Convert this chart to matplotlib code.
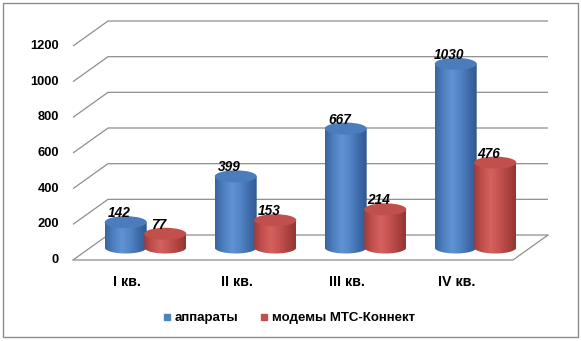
import numpy as np
import matplotlib
matplotlib.use("Agg")
import matplotlib.pyplot as plt
from matplotlib.patches import Ellipse, Rectangle, PathPatch
from matplotlib.path import Path
from matplotlib.colors import LinearSegmentedColormap

categories = ["I кв.", "II кв.", "III кв.", "IV кв."]
apparaty = [142, 399, 667, 1030]
modemy = [77, 153, 214, 476]
series_names = ["аппараты", "модемы МТС-Коннект"]
yticks = [0, 200, 400, 600, 800, 1000, 1200]

plt.rcParams['font.family'] = ['Liberation Sans', 'DejaVu Sans']

W, H = 581, 341
fig = plt.figure(figsize=(W / 100, H / 100), dpi=100)
ax = fig.add_axes([0, 0, 1, 1])
ax.axis("off")

# pixel geometry -> data scales
cat_px = 110.0
x_left_px = 73.0
val_px = 214.0 / 1200.0
y0_px = 260.0
ax.set_xlim(-0.5 - x_left_px / cat_px, -0.5 + (W - x_left_px) / cat_px)
ax.set_ylim((y0_px - H) / val_px, y0_px / val_px)

n = len(categories)
dx = 35.0 / cat_px      # depth offset in category units
dy = 25.0 / val_px      # depth offset in value units
grid_c = "#8f8f8f"

# gridlines (side wall + back wall)
for v in yticks:
    ax.plot([-0.5, -0.5 + dx, n - 0.5 + dx], [v, v + dy, v + dy],
            color=grid_c, lw=0.9, zorder=1, solid_capstyle="butt")
# floor outline
ax.plot([-0.5, n - 0.5, n - 0.5 + dx], [0, 0, dy], color=grid_c, lw=0.9, zorder=1)

# y tick labels
for v in yticks:
    ax.annotate(str(v), (-0.5, v), xytext=(-10, 0), textcoords="offset points",
                ha="right", va="center", fontsize=9.3, fontweight="bold")

# category labels
for i, c in enumerate(categories):
    ax.annotate(c, (i, 0), xytext=(-1, -16), textcoords="offset points",
                ha="center", va="center", fontsize=10.3, fontweight="bold")

cyl_w = 42.0 / cat_px
ell_h = 12.0 / val_px

blue_cmap = LinearSegmentedColormap.from_list(
    "b", ["#3a64a0", "#4e80c0", "#5f93d4", "#5285c6", "#3f6cab", "#32598f"])
red_cmap = LinearSegmentedColormap.from_list(
    "r", ["#a03c39", "#c2514e", "#d4615d", "#c65350", "#ad4340", "#943634"])
tops = ["#4b7cbb", "#c14f4c"]


def cylinder(xc, v, cmap, topc, z):
    x0, x1 = xc - cyl_w / 2, xc + cyl_w / 2
    ycen = dy / 2
    t = np.linspace(np.pi, 2 * np.pi, 40)
    bx = xc + np.cos(t) * cyl_w / 2
    by = ycen + np.sin(t) * ell_h / 2
    verts = [(x0, ycen + v)] + list(zip(bx, by)) + [(x1, ycen + v), (x0, ycen + v)]
    codes = [Path.MOVETO] + [Path.LINETO] * (len(verts) - 2) + [Path.CLOSEPOLY]
    path = Path(verts, codes)
    patch = PathPatch(path, facecolor="none", edgecolor="none", zorder=z)
    ax.add_patch(patch)
    grad = np.linspace(0, 1, 64).reshape(1, -1)
    im = ax.imshow(grad, cmap=cmap, aspect="auto", interpolation="bilinear",
                   extent=[x0, x1, ycen - ell_h, ycen + v], zorder=z)
    im.set_clip_path(patch)
    top = Ellipse((xc, ycen + v), cyl_w, ell_h, facecolor=topc,
                  edgecolor="none", zorder=z + 0.1)
    ax.add_patch(top)
    return ycen + v


offs = [-0.18, 0.18]
for i in range(n):
    for s, (vals, cmap) in enumerate([(apparaty, blue_cmap), (modemy, red_cmap)]):
        xc = i + dx / 2 + offs[s]
        ytop = cylinder(xc, vals[i], cmap, tops[s], 3 + i * 2 + s)
        ax.annotate(str(vals[i]), (xc, ytop), xytext=(-4.5, 6.5),
                    textcoords="offset points", ha="center", va="center",
                    fontsize=9.8, fontweight="bold", fontstyle="italic", zorder=20)

# legend
leg_cols = ["#4f81bd", "#c0504d"]
handles = [plt.Line2D([], [], marker="s", ls="none", markersize=5,
                      markerfacecolor=c, markeredgecolor=c) for c in leg_cols]
fig.legend(handles, series_names, loc="center", bbox_to_anchor=(289 / W, 1 - 318 / H),
           ncol=2, frameon=False, prop={"weight": "bold", "size": 9.5},
           handlelength=0.6, handletextpad=0.3, columnspacing=1.6)

# outer border
fig.patches.append(Rectangle((3 / W, 4 / H), 575 / W, 334 / H, transform=fig.transFigure,
                             fill=False, edgecolor="#8c8c8c", lw=1.0))

fig.savefig("out.png", dpi=100)
